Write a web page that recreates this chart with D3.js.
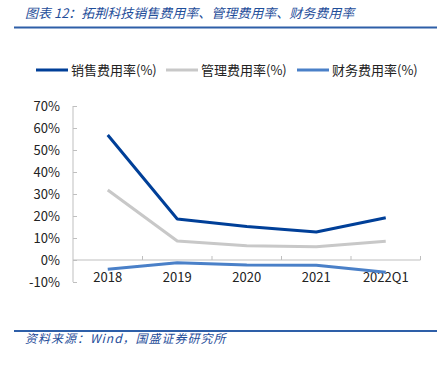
<!DOCTYPE html>
<html><head><meta charset="utf-8">
<script src="https://cdn.jsdelivr.net/npm/d3@7"></script>
<style>body{margin:0;background:#fff}svg{display:block}</style>
</head><body>
<svg id="c" width="447" height="370"></svg>
<script>
const categories = ["2018","2019","2020","2021","2022Q1"];
const salesRate = [56.8, 18.6, 15.2, 12.7, 19.2];
const adminRate = [31.8, 8.6, 6.5, 6.0, 8.5];
const financeRate = [-4.2, -1.2, -2.3, -2.4, -5.6];
const yTicks = [-10,0,10,20,30,40,50,60,70];
const seriesNames = ["销售费用率(%)","管理费用率(%)","财务费用率(%)"];
const seriesColors = ["#003f98","#c8c8c8","#4a80c8"];

const svg = d3.select("#c");
const font = "'Noto Sans CJK SC', 'Noto Sans', sans-serif";

// title
svg.append("text").attr("x",25).attr("y",18).attr("font-family",font).attr("font-size",13)
  .attr("font-style","italic").attr("fill","#1f4e9a").text("图表 12：拓荆科技销售费用率、管理费用率、财务费用率");
svg.append("line").attr("x1",14).attr("x2",437).attr("y1",27.5).attr("y2",27.5).attr("stroke","#2e5fa8").attr("stroke-width",2);

// legend
const legX = [36,166,297];
seriesNames.forEach((n,i)=>{
  svg.append("line").attr("x1",legX[i]).attr("x2",legX[i]+32).attr("y1",70).attr("y2",70)
    .attr("stroke",seriesColors[i]).attr("stroke-width",3);
  svg.append("text").attr("x",legX[i]+35).attr("y",75).attr("font-family",font).attr("font-size",13)
    .attr("fill","#222").text(n);
});

const x = d3.scaleBand().domain(categories).range([73,420.5]);
const y = d3.scaleLinear().domain([-10,70]).range([282,106]);

// y axis
const yAx = svg.append("g").attr("transform","translate(73,0)")
  .call(d3.axisRight(y).tickValues(yTicks).tickSize(4).tickFormat(""));
yAx.select(".domain").attr("stroke","#bfbfbf").attr("d","M0,106V282");
yAx.selectAll(".tick line").attr("stroke","#bfbfbf");
yTicks.forEach(t=>{
  svg.append("text").attr("x",60).attr("y",y(t)+4.5).attr("text-anchor","end")
    .attr("font-family",font).attr("font-size",13).attr("fill","#222").text(t+"%");
});

// x axis at zero
const xAx = svg.append("g").attr("transform",`translate(0,${y(0)})`)
  .call(d3.axisTop(x).tickSize(0).tickFormat(""));
xAx.select(".domain").attr("stroke","#bfbfbf").attr("d","M73,0H420.5");
const bounds = categories.map(c=>x(c)+x.bandwidth());
bounds.forEach(b=>{
  svg.append("line").attr("x1",b).attr("x2",b).attr("y1",y(0)-4).attr("y2",y(0)).attr("stroke","#bfbfbf");
});
categories.forEach(c=>{
  svg.append("text").attr("x",x(c)+x.bandwidth()/2).attr("y",282).attr("text-anchor","middle")
    .attr("font-family",font).attr("font-size",13).attr("fill","#222").text(c);
});

// lines
const line = d3.line().x((d,i)=>x(categories[i])+x.bandwidth()/2).y(d=>y(d));
[salesRate,adminRate,financeRate].forEach((s,i)=>{
  svg.append("path").datum(s).attr("d",line).attr("fill","none")
    .attr("stroke",seriesColors[i]).attr("stroke-width",3).attr("stroke-linejoin","round");
});

// source
svg.append("line").attr("x1",14).attr("x2",437).attr("y1",331).attr("y2",331).attr("stroke","#2e5fa8").attr("stroke-width",2);
svg.append("text").attr("x",25).attr("y",343).attr("font-family",font).attr("font-size",12)
  .attr("letter-spacing",1).attr("font-style","italic").attr("fill","#1f4e9a").text("资料来源：Wind，国盛证券研究所");
</script>
</body></html>
